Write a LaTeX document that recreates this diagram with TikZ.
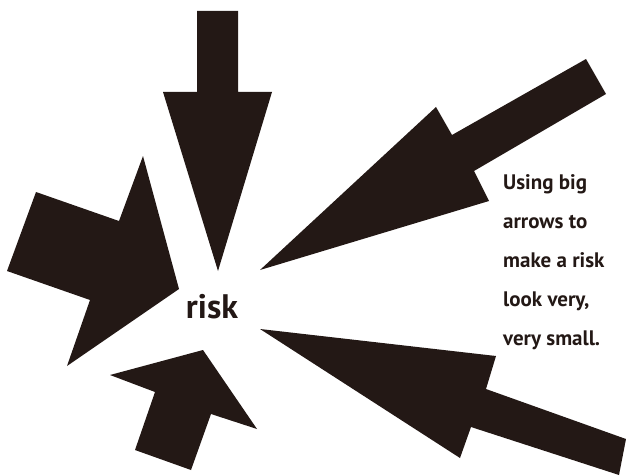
\documentclass[tikz,border=0pt]{standalone}
\usepackage{fontspec}
\setmainfont{PT Sans}
\usepackage{tikz}
\usetikzlibrary{positioning}
\definecolor{inkbrown}{RGB}{35,24,21}
\tikzset{
    bigarrow/.style={fill=inkbrown, draw=none},
    label/.style={font=\bfseries, text=inkbrown, inner sep=0pt},
}

\begin{document}
\begin{tikzpicture}[x=1pt, y=-1pt]
    \useasboundingbox (0,0) rectangle (626,476);

    \fill[bigarrow] (197,11) -- (238,11) -- (238,92) -- (272,92)
        -- (218,271) -- (163,92) -- (197,92) -- cycle;
    \fill[bigarrow] (586,59) -- (606,94) -- (474,171) -- (489,201)
        -- (260,270) -- (436,107) -- (452,135) -- cycle;
    \fill[bigarrow] (626,439) -- (619,475) -- (471,427) -- (460,458)
        -- (260,329) -- (496,356) -- (486,389) -- cycle;
    \fill[bigarrow] (36,192) -- (119,221) -- (143,156) -- (179,289)
        -- (67,366) -- (90,300) -- (7,271) -- cycle;
    \fill[bigarrow] (135,450) -- (155,392) -- (110,375) -- (203,350)
        -- (257,429) -- (211,414) -- (191,470) -- cycle;

    \node[label, font=\bfseries\fontsize{34}{34}\selectfont] (risk) at (212,307) {risk};
    \node[label, anchor=north west, align=left,
          font=\bfseries\fontsize{21}{39}\selectfont] (note) at (503,174)
        {Using big\\arrows to\\make a risk\\look very,\\very small.};
\end{tikzpicture}
\end{document}
